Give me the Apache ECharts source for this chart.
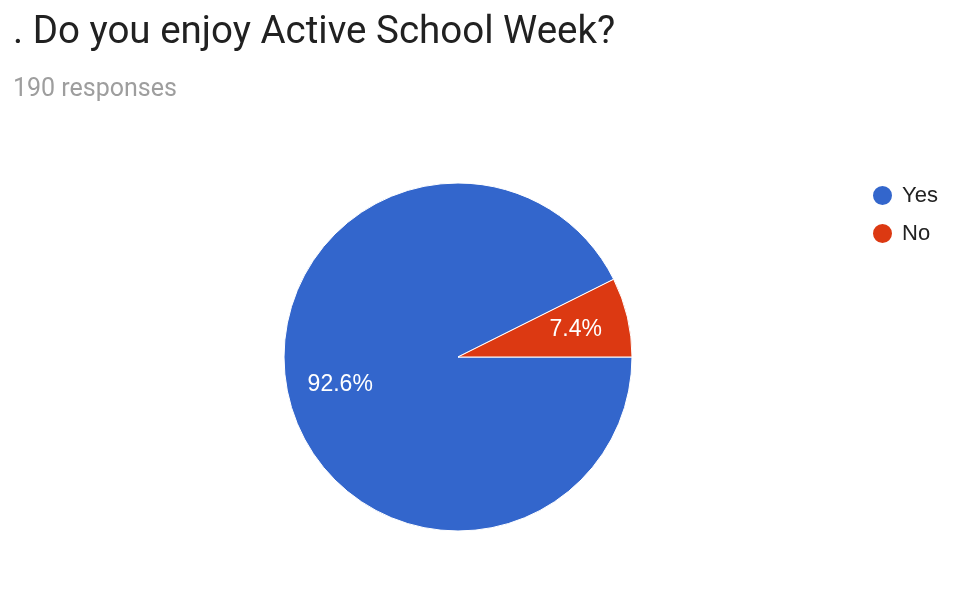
<!DOCTYPE html>
<html>
<head>
<meta charset="utf-8">
<script src="https://cdn.jsdelivr.net/npm/echarts@6/dist/echarts.min.js"></script>
<style>
  html, body { margin: 0; padding: 0; background: #fff; }
  #main { width: 980px; height: 594px; }
</style>
</head>
<body>
<div id="main"></div>
<script>
// survey answers
var answers = ['Yes', 'No'];
var counts = [176, 14];
var colors = ['#3366cc', '#dc3912'];

var pieData = answers.map(function (a, i) {
	return { name: a, value: counts[i], itemStyle: { color: colors[i] } };
});
// same slices, transparent, only used to push the labels further out
var labelData = answers.map(function (a, i) {
	return { name: a, value: counts[i], itemStyle: { color: 'rgba(0,0,0,0)' } };
});

var myChart = echarts.init(document.getElementById('main'));
var option = {
	animation: false,
	title: [{
		text: '. Do you enjoy Active School Week?',
		left: 8, top: 9,
		textStyle: { fontFamily: 'Roboto', fontSize: 38.5, fontWeight: 'normal', color: '#212121' }
	}, {
		text: '190 responses',
		left: 8, top: 72,
		textStyle: { fontFamily: 'Roboto', fontSize: 25, fontWeight: 'normal', color: '#9e9e9e' }
	}],
	legend: {
		orient: 'vertical',
		left: 866, top: 179,
		icon: 'circle',
		itemWidth: 21, itemHeight: 21,
		itemGap: 15,
		data: answers.map(function (a, i) {
			return { name: a, itemStyle: { color: colors[i] } };
		}),
		textStyle: { fontFamily: 'Liberation Sans, Arial', fontSize: 22, color: '#222', padding: [0, 0, 0, 4] }
	},
	series: [{
		type: 'pie',
		center: [458, 357],
		radius: 174,
		startAngle: 0,
		clockwise: true,
		avoidLabelOverlap: false,
		itemStyle: { borderColor: '#fff', borderWidth: 1 },
		label: { show: false },
		labelLine: { show: false },
		emphasis: { disabled: true },
		data: pieData
	}, {
		type: 'pie',
		center: [458, 357],
		radius: 236,
		startAngle: 0,
		clockwise: true,
		silent: true,
		percentPrecision: 1,
		avoidLabelOverlap: false,
		label: {
			show: true,
			position: 'inside',
			formatter: '{d}%',
			fontFamily: 'Liberation Sans, Arial',
			fontSize: 23,
			color: '#fff'
		},
		labelLine: { show: false },
		emphasis: { disabled: true },
		data: labelData
	}]
};
myChart.setOption(option);
</script>
</body>
</html>
